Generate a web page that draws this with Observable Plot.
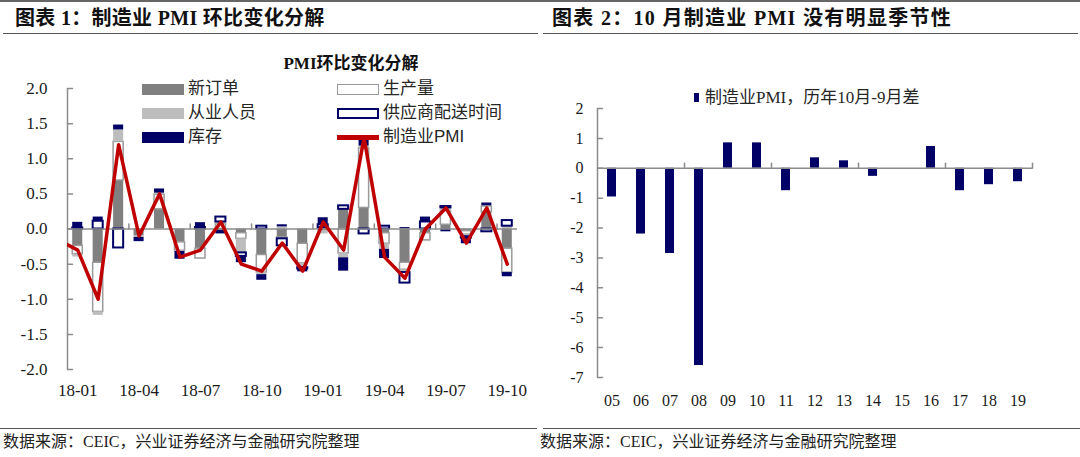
<!DOCTYPE html>
<html>
<head>
<meta charset="utf-8">
<script src="https://cdn.jsdelivr.net/npm/d3@7"></script>
<script src="https://cdn.jsdelivr.net/npm/@observablehq/plot@0.6"></script>
<style>
  html, body { margin: 0; padding: 0; background: #fff; }
  #wrap { position: relative; width: 1080px; height: 457px; overflow: hidden; background: #fff;
          font-family: "Liberation Serif", "Noto Sans CJK SC", serif; color: #1a1a1a; }
  .abs { position: absolute; white-space: nowrap; line-height: 1; }
  .title { font-weight: bold; font-size: 20px; color: #111; }
  .hr { position: absolute; height: 0; border-top: 1.5px solid #555; }
  .foot { font-size: 16px; color: #222; }
  .lg { font-size: 17px; color: #262626; }
  .sw { position: absolute; box-sizing: border-box; width: 42px; height: 11px; }
</style>
</head>
<body>
<div id="wrap">
  <div class="hr" style="left:0;top:0;width:1080px;border-top:2px solid #666;"></div>

  <div class="abs title" style="left:15px;top:8px;letter-spacing:0.3px;">图表 1：制造业 PMI 环比变化分解</div>
  <div class="abs title" style="left:552px;top:8px;letter-spacing:1.3px;">图表 2：10 月制造业 PMI 没有明显季节性</div>
  <div class="hr" style="left:3px;top:33px;width:535px;"></div>
  <div class="hr" style="left:543px;top:33px;width:535px;"></div>

  <div id="leftChart" class="abs" style="left:0;top:40px;"></div>
  <div id="rightChart" class="abs" style="left:540px;top:40px;"></div>

  <div class="abs" style="left:351px;top:55px;transform:translateX(-50%);font-weight:bold;font-size:17px;color:#111;">PMI环比变化分解</div>
  <div id="legendL"></div>
  <div id="legendR"></div>

  <div class="hr" style="left:0;top:428px;width:537px;"></div>
  <div class="hr" style="left:543px;top:428px;width:537px;"></div>
  <div class="abs foot" style="left:3px;top:434px;">数据来源：CEIC，兴业证券经济与金融研究院整理</div>
  <div class="abs foot" style="left:540px;top:434px;">数据来源：CEIC，兴业证券经济与金融研究院整理</div>
</div>

<script>
// ---------------- Data: chart 1 (PMI month-on-month decomposition) ----------------
const months = ["18-01","18-02","18-03","18-04","18-05","18-06","18-07","18-08","18-09","18-10","18-11",
                "18-12","19-01","19-02","19-03","19-04","19-05","19-06","19-07","19-08","19-09","19-10"];
const seriesNames = ["新订单","生产量","从业人员","供应商配送时间","库存"];
const newOrders  = [-0.24,-0.48, 0.69,-0.10, 0.28,-0.19,-0.28,-0.02,-0.06,-0.37,-0.12,-0.21,-0.03, 0.28, 0.30,-0.06,-0.48,-0.06, 0.06,-0.03, 0.24,-0.28];
const production = [-0.12,-0.70, 0.55, 0.00, 0.21,-0.12,-0.14, 0.07,-0.08,-0.25,-0.02,-0.28, 0.02,-0.35, 0.85,-0.15,-0.10,-0.10, 0.20,-0.05, 0.08,-0.34];
const employment = [-0.04,-0.05, 0.17,-0.02, 0.02,-0.01, 0.00, 0.03,-0.20,-0.03, 0.03,-0.06,-0.04,-0.06, 0.03,-0.08,-0.04,-0.02, 0.04,-0.03, 0.01, 0.04];
const delivery   = [ 0.015,0.11,-0.27, 0.00, 0.00, 0.00, 0.02, 0.07,-0.05, 0.04,-0.10,-0.02, 0.04, 0.05,-0.07, 0.04,-0.15, 0.10, 0.02,-0.02,-0.04, 0.08];
const inventory  = [ 0.08, 0.06, 0.07,-0.06, 0.06,-0.11, 0.07,-0.05,-0.09,-0.08, 0.03,-0.04, 0.10,-0.19, 0.14,-0.13, 0.02, 0.07,-0.04,-0.08, 0.04,-0.06];
// manufacturing PMI change (includes 17-12, which lies just left of the axis)
const pmiMonths  = ["17-12", ...months];
const pmiChange  = [-0.15,-0.3,-1.0, 1.2,-0.1, 0.5,-0.4,-0.3, 0.1,-0.5,-0.6,-0.2,-0.6, 0.1,-0.3, 1.3,-0.4,-0.7, 0.0, 0.3,-0.2, 0.3,-0.5];
const yTicksL = [-2,-1.5,-1,-0.5,0,0.5,1,1.5,2];
const xLabelMonthsL = ["18-01","18-04","18-07","18-10","19-01","19-04","19-07","19-10"];
const groupTicksL = [3,6,9,12,15,18,21];   // category-count boundaries with tick marks

// ---------------- Data: chart 2 (Oct minus Sep PMI by year) ----------------
const years = ["05","06","07","08","09","10","11","12","13","14","15","16","17","18","19"];
const octMinusSep = [-0.96,-2.2,-2.85,-6.6,0.85,0.85,-0.75,0.35,0.25,-0.27,0,0.73,-0.75,-0.55,-0.45];
const yTicksR = [-7,-6,-5,-4,-3,-2,-1,0,1,2];
const groupTicksR = [3,6,9,12,15];

// ---------------- Styles ----------------
const NAVY = "#000066", RED = "#c00000", AX = "#8c8c8c";
const FILL   = {"新订单":"#808080","生产量":"#ffffff","从业人员":"#bdbdbd","供应商配送时间":"#ffffff","库存":NAVY};
const STROKE = {"新订单":"none","生产量":"#9a9a9a","从业人员":"none","供应商配送时间":NAVY,"库存":"none"};
const SW     = {"新订单":0,"生产量":1.5,"从业人员":0,"供应商配送时间":2,"库存":0};
const SERIF = "'Liberation Serif', 'Noto Sans CJK SC', serif";
const tickLine = {draw(ctx, l) { ctx.moveTo(0, 0); ctx.lineTo(0, -l); }};

const seriesValues = [newOrders, production, employment, delivery, inventory];
const barRows = [];
months.forEach((m, i) => seriesNames.forEach((s, k) => {
  const v = seriesValues[k][i];
  if (v !== 0) barRows.push({m, s, v});
}));
const lineRows = pmiMonths.map((m, k) => ({m, v: pmiChange[k]}));
const xDomL = [-0.5, months.length - 0.5];
const yDomL = [-2, 2];
const idx = m => months.indexOf(m);

const left = Plot.plot({
  width: 540, height: 380,
  marginLeft: 67, marginRight: 23, marginTop: 48, marginBottom: 51,
  x: {domain: xDomL, label: null},
  y: {domain: yDomL, label: null},
  color: {type: "identity"},
  style: {fontFamily: SERIF, background: "transparent", color: "#1a1a1a", overflow: "visible"},
  marks: [
    Plot.rectY(barRows, {
      x1: d => idx(d.m) - 0.5, x2: d => idx(d.m) + 0.5, y: "v", z: "s",
      fill: d => FILL[d.s], stroke: d => STROKE[d.s], strokeWidth: d => SW[d.s],
      insetLeft: 5.2, insetRight: 5.2
    }),
    Plot.ruleY([0], {stroke: AX, strokeWidth: 1.5}),
    Plot.ruleX([xDomL[0]], {y1: yDomL[0], y2: yDomL[1], stroke: AX, strokeWidth: 1.5}),
    Plot.vector(yTicksL, {x: xDomL[0], y: d => d, length: 5, rotate: 90, anchor: "start", shape: tickLine, stroke: AX, strokeWidth: 1.5}),
    Plot.vector(groupTicksL, {x: d => d - 0.5, y: 0, length: 5, rotate: 0, anchor: "start", shape: tickLine, stroke: AX, strokeWidth: 1.5}),
    Plot.axisY(yTicksL, {tickSize: 0, tickPadding: 20, tickFormat: d => d.toFixed(1), fontSize: 17, label: null}),
    Plot.axisX(xLabelMonthsL.map(idx), {tickSize: 0, tickPadding: 14, tickFormat: i => months[i], fontSize: 17, label: null}),
    Plot.line(lineRows, {x: d => idx(d.m), y: "v", stroke: RED, strokeWidth: 3.5, strokeLinejoin: "round", clip: true})
  ]
});
document.getElementById("leftChart").appendChild(left);

const rowsR = years.map((yr, i) => ({yr, v: octMinusSep[i]}));
const xDomR = [-0.5, years.length - 0.5];
const yDomR = [-7, 2];
const idxR = yr => years.indexOf(yr);
const right = Plot.plot({
  width: 540, height: 380,
  marginLeft: 57, marginRight: 48, marginTop: 68, marginBottom: 43,
  x: {domain: xDomR, label: null},
  y: {domain: yDomR, label: null},
  style: {fontFamily: SERIF, background: "transparent", color: "#1a1a1a", overflow: "visible"},
  marks: [
    Plot.rectY(rowsR, {x1: d => idxR(d.yr) - 0.5, x2: d => idxR(d.yr) + 0.5, y: "v", fill: NAVY, insetLeft: 10, insetRight: 10}),
    Plot.ruleY([0], {stroke: AX, strokeWidth: 1.5}),
    Plot.ruleX([xDomR[0]], {y1: yDomR[0], y2: yDomR[1], stroke: AX, strokeWidth: 1.5}),
    Plot.vector(yTicksR, {x: xDomR[0], y: d => d, length: 5, rotate: 90, anchor: "start", shape: tickLine, stroke: AX, strokeWidth: 1.5}),
    Plot.vector(groupTicksR, {x: d => d - 0.5, y: 0, length: 5, rotate: 0, anchor: "start", shape: tickLine, stroke: AX, strokeWidth: 1.5}),
    Plot.axisY(yTicksR, {tickSize: 0, tickPadding: 14, tickFormat: d => String(d), fontSize: 16, label: null}),
    Plot.axisX(years.map(idxR), {tickSize: 0, tickPadding: 17, tickFormat: i => years[i], fontSize: 16, label: null})
  ]
});
document.getElementById("rightChart").appendChild(right);

// ---------------- Legends (HTML) ----------------
const legendL = document.getElementById("legendL");
const legendItems = [
  {name: "新订单", col: 0, row: 0}, {name: "生产量", col: 1, row: 0},
  {name: "从业人员", col: 0, row: 1}, {name: "供应商配送时间", col: 1, row: 1},
  {name: "库存", col: 0, row: 2}, {name: "制造业PMI", col: 1, row: 2, line: true}
];
const colX = [142, 337], rowY = [89, 113, 137];
legendItems.forEach(it => {
  const sw = document.createElement("div");
  sw.className = "sw";
  sw.style.left = colX[it.col] + "px";
  if (it.line) {
    sw.style.top = (rowY[it.row] - 2) + "px";
    sw.style.height = "4.5px";
    sw.style.background = RED;
  } else {
    sw.style.top = (rowY[it.row] - 5.5) + "px";
    sw.style.background = FILL[it.name];
    if (STROKE[it.name] !== "none") sw.style.border = SW[it.name] + "px solid " + STROKE[it.name];
  }
  legendL.appendChild(sw);
  const t = document.createElement("div");
  t.className = "abs lg";
  t.textContent = it.name;
  t.style.left = (colX[it.col] + 46) + "px";
  t.style.top = (rowY[it.row] - 9) + "px";
  if (it.line) t.style.fontFamily = "'Liberation Sans', 'Noto Sans CJK SC', sans-serif";
  legendL.appendChild(t);
});
const legendR = document.getElementById("legendR");
const sq = document.createElement("div");
sq.className = "abs";
Object.assign(sq.style, {left: "694px", top: "93px", width: "5px", height: "9px", background: NAVY});
legendR.appendChild(sq);
const tr = document.createElement("div");
tr.className = "abs lg";
tr.textContent = "制造业PMI，历年10月-9月差";
Object.assign(tr.style, {left: "705px", top: "89px"});
legendR.appendChild(tr);
</script>
</body>
</html>
